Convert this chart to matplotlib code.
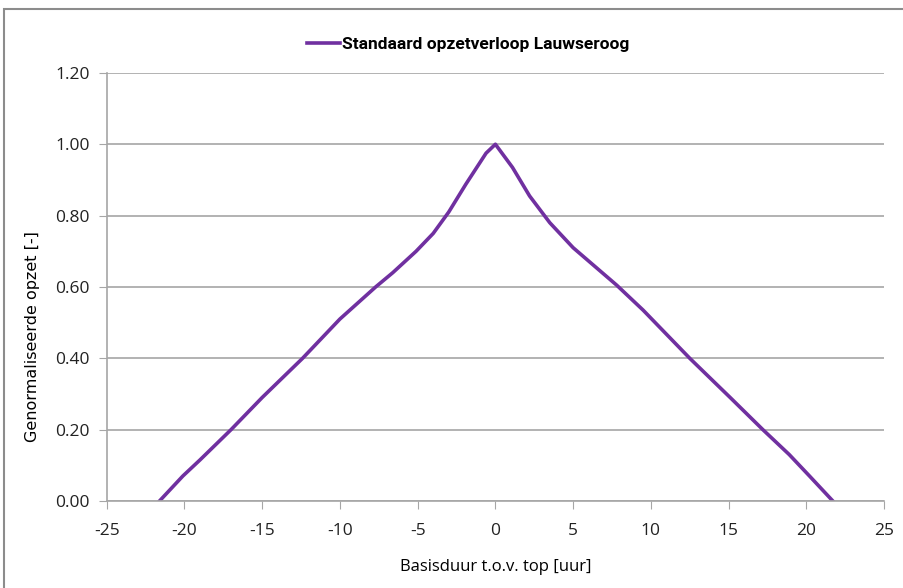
import matplotlib.pyplot as plt
from matplotlib.patches import Rectangle

plt.rcParams["axes.unicode_minus"] = False

# Standaard opzetverloop Lauwseroog
hours = [-21.6, -20.1, -19.0, -17.0, -15.0, -12.4, -10.0, -7.7, -6.6, -5.1,
         -4.0, -3.0, -1.9, -0.6, 0.0, 1.1, 2.2, 3.5, 5.0, 7.8, 9.5, 12.5,
         15.1, 17.2, 18.9, 20.2, 21.7]
opzet = [0.00, 0.07, 0.115, 0.20, 0.29, 0.40, 0.51, 0.60, 0.64, 0.70,
         0.75, 0.81, 0.888, 0.975, 1.00, 0.935, 0.855, 0.78, 0.71, 0.605, 0.535, 0.40,
         0.29, 0.20, 0.13, 0.07, 0.00]

x_ticks = [-25, -20, -15, -10, -5, 0, 5, 10, 15, 20, 25]
y_ticks = [0.0, 0.2, 0.4, 0.6, 0.8, 1.0, 1.2]

purple = "#7030a0"
grey = "#a6a6a6"

fig = plt.figure(figsize=(9.04, 5.88), dpi=100)
ax = fig.add_axes([0.118, 0.148, 0.860, 0.728])

ax.plot(hours, opzet, color=purple, linewidth=2.6, label="Standaard opzetverloop Lauwseroog")

ax.set_xlim(-25, 25)
ax.set_ylim(0, 1.2)
ax.set_xticks(x_ticks)
ax.set_yticks(y_ticks)
ax.set_yticklabels([f"{v:.2f}" for v in y_ticks])
ax.tick_params(axis="both", labelsize=12.5, colors="#222222", length=6, color=grey)
ax.tick_params(axis="x", pad=10)
ax.tick_params(axis="y", pad=6)
for lab in ax.get_xticklabels() + ax.get_yticklabels():
    lab.set_family("Open Sans")

ax.grid(axis="y", color=grey, linewidth=1.2)
ax.set_axisbelow(True)
for side in ("top", "right"):
    ax.spines[side].set_visible(False)
for side in ("left", "bottom"):
    ax.spines[side].set_color(grey)
    ax.spines[side].set_linewidth(1.2)

ax.set_xlabel("Basisduur t.o.v. top [uur]", fontsize=12, family="Open Sans")
ax.xaxis.set_label_coords(0.5, -0.135)
ax.set_ylabel("Genormaliseerde opzet [-]", fontsize=11.5, family="DejaVu Sans", va="center")
ax.yaxis.set_label_coords(-0.095, 0.383)

leg = ax.legend(loc="center", bbox_to_anchor=(0.465, 1.067), frameon=False,
                handlelength=1.9, handletextpad=0.15,
                prop={"family": "Roboto", "weight": "bold", "size": 12.5})

fig.patches.append(Rectangle((0.004, -0.01), 1.2, 0.995, transform=fig.transFigure,
                             fill=False, edgecolor="#8c8c8c", linewidth=1.5))

fig.savefig("out.png", dpi=100)
